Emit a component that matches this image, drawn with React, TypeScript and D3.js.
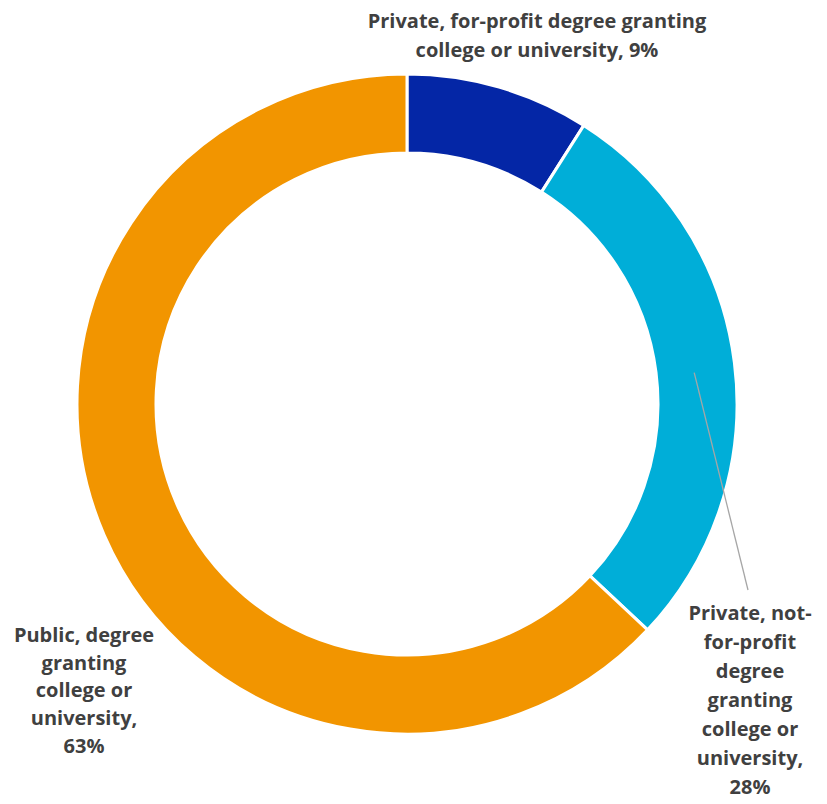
import React from "react";
import * as d3 from "d3";

const categories = [
  "Private, for-profit degree granting college or university",
  "Private, not-for-profit degree granting college or university",
  "Public, degree granting college or university",
];
const values = [9, 28, 63];
const colors = ["#0426A6", "#00AED8", "#F29500"];
const labelLines = [
  ["Private, for-profit degree granting", "college or university, 9%"],
  ["Private, not-", "for-profit", "degree", "granting", "college or", "university,", "28%"],
  ["Public, degree", "granting", "college or", "university,", "63%"],
];

const W = 827;
const H = 804;
const cx = 407;
const cy = 404;
const outerR = 330;
const innerR = 251;

export default function App() {
  const pie = d3.pie<number>().sort(null).value((d) => d);
  const arcs = pie(values);
  const arcGen = d3.arc<d3.PieArcDatum<number>>().innerRadius(innerR).outerRadius(outerR);

  const labelPos = [
    { x: 537, y: 28, lh: 29 },
    { x: 750, y: 620, lh: 29 },
    { x: 84, y: 642, lh: 27.7 },
  ];

  const mid = arcs[1];
  const midAngle = (mid.startAngle + mid.endAngle) / 2;
  const lr = (innerR + outerR) / 2;
  const lx = cx + lr * Math.sin(midAngle);
  const ly = cy - lr * Math.cos(midAngle);

  return (
    <div style={{ position: "fixed", left: 0, top: 0 }}>
      <svg width={W} height={H} style={{ display: "block", background: "#fff" }}>
        <g transform={`translate(${cx},${cy})`}>
          {arcs.map((a, i) => (
            <path key={categories[i]} d={arcGen(a) || ""} fill={colors[i]} stroke="#fff" strokeWidth={3} />
          ))}
        </g>
        <line x1={lx - 1} y1={ly + 5} x2={748} y2={590} stroke="#A6A6A6" strokeWidth={1.3} />
        {labelLines.map((lines, i) => (
          <text
            key={i}
            textAnchor="middle"
            fontFamily="'Open Sans', sans-serif"
            fontWeight={700}
            fontSize={20}
            fill="#404040"
          >
            {lines.map((t, j) => (
              <tspan key={j} x={labelPos[i].x} y={labelPos[i].y + j * labelPos[i].lh}>
                {t}
              </tspan>
            ))}
          </text>
        ))}
      </svg>
    </div>
  );
}
